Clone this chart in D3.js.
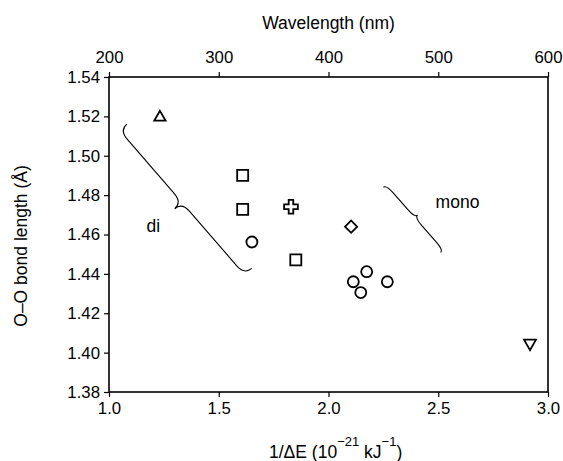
<!DOCTYPE html>
<html>
<head>
<meta charset="utf-8">
<script src="https://cdn.jsdelivr.net/npm/d3@7"></script>
<style>
  body { margin: 0; background: #fff; }
  svg { display: block; font-family: "Liberation Sans", Arial, Helvetica, sans-serif; }
</style>
</head>
<body>
<svg id="chart" width="563" height="461"></svg>
<script>
// ---- data (x = 1/ΔE in 1e-21 kJ^-1, y = O–O bond length in Å) ----
const triangleUpPts   = [[1.232, 1.5195]];
const squarePts       = [[1.609, 1.490], [1.609, 1.4728], [1.851, 1.4471]];
const circlePts       = [[1.651, 1.4562], [2.113, 1.436], [2.147, 1.4305], [2.174, 1.4411], [2.268, 1.436]];
const crossPts        = [[1.829, 1.4741]];
const diamondPts      = [[2.103, 1.464]];
const triangleDownPts = [[2.918, 1.4048]];

const xTicks = [1.0, 1.5, 2.0, 2.5, 3.0];
const yTicks = [1.38, 1.40, 1.42, 1.44, 1.46, 1.48, 1.50, 1.52, 1.54];
const wlTicks = [200, 300, 400, 500, 600];

// braces: [end1, tip, end2] in data coordinates
const braceDi   = [[1.081, 1.5161], [1.296, 1.4735], [1.650, 1.4428]];
const braceMono = [[2.250, 1.4840], [2.405, 1.4699], [2.511, 1.4508]];
const labels = [
  { text: "di",   x: 1.202, y: 1.4613, anchor: "middle" },
  { text: "mono", x: 2.488, y: 1.4735, anchor: "start" }
];

// ---- layout ----
const svg = d3.select("#chart");
const L = 109, R = 548, T = 77, B = 392;
const x = d3.scaleLinear().domain([1.0, 3.0]).range([L, R]);
const xw = d3.scaleLinear().domain([200, 600]).range([L, R]);
const y = d3.scaleLinear().domain([1.38, 1.54]).range([B, T]);

const tickFont = 16.8;

function styleAxis(g) {
  g.selectAll(".domain").remove();
  g.selectAll("line").attr("stroke", "#000").attr("stroke-width", 1.2);
  g.selectAll("text").attr("fill", "#000").style("font-size", tickFont + "px")
    .style("font-family", '"Liberation Sans", Arial, sans-serif');
}

svg.append("g").attr("transform", `translate(0,${B})`)
  .call(d3.axisBottom(x).tickValues(xTicks).tickFormat(d3.format(".1f")).tickSize(5).tickPadding(5))
  .call(styleAxis);
svg.append("g").attr("transform", `translate(0,${T})`)
  .call(d3.axisTop(xw).tickValues(wlTicks).tickFormat(d3.format("d")).tickSize(5).tickPadding(9))
  .call(styleAxis);
svg.append("g").attr("transform", `translate(${L},0)`)
  .call(d3.axisLeft(y).tickValues(yTicks).tickFormat(d3.format(".2f")).tickSize(5).tickPadding(4))
  .call(styleAxis);

// frame
svg.append("rect").attr("x", L).attr("y", T).attr("width", R - L).attr("height", B - T)
  .attr("fill", "none").attr("stroke", "#000").attr("stroke-width", 1.6);

// axis titles
svg.append("text").attr("x", (L + R) / 2).attr("y", 29).attr("text-anchor", "middle")
  .style("font-size", "17.5px").text("Wavelength (nm)");

const bt = svg.append("text").attr("x", 269).attr("y", 458).style("font-size", "17.5px");
bt.append("tspan").text("1/ΔE (10");
bt.append("tspan").attr("dy", -12).style("font-size", "13px").text("−21");
bt.append("tspan").attr("dy", 12).text(" kJ");
bt.append("tspan").attr("dy", -12).style("font-size", "13px").text("−1");
bt.append("tspan").attr("dy", 12).text(")");

svg.append("text").attr("transform", "translate(27,246) rotate(-90)").attr("text-anchor", "middle")
  .style("font-size", "17.5px").text("O–O bond length (Å)");

// ---- braces ----
function bracePath(p1, tip, p2) {
  const [x1, y1] = [x(p1[0]), y(p1[1])];
  const [x2, y2] = [x(p2[0]), y(p2[1])];
  const [tx, ty] = [x(tip[0]), y(tip[1])];
  const len = Math.hypot(x2 - x1, y2 - y1);
  const ux = (x2 - x1) / len, uy = (y2 - y1) / len;
  const mx = (x1 + x2) / 2, my = (y1 + y2) / 2;
  let nx = -uy, ny = ux;
  let w = (tx - mx) * nx + (ty - my) * ny;
  if (w < 0) { nx = -nx; ny = -ny; w = -w; }
  const h = w / 2;
  const ru = Math.min(12, len * 0.12);
  const P = (a, b) => `${a.toFixed(2)},${b.toFixed(2)}`;
  return [
    "M", P(x1, y1),
    "Q", P(x1 + h * nx, y1 + h * ny), P(x1 + h * nx + ru * ux, y1 + h * ny + ru * uy),
    "L", P(mx + h * nx - ru * ux, my + h * ny - ru * uy),
    "Q", P(mx + h * nx, my + h * ny), P(mx + w * nx, my + w * ny),
    "Q", P(mx + h * nx, my + h * ny), P(mx + h * nx + ru * ux, my + h * ny + ru * uy),
    "L", P(x2 + h * nx - ru * ux, y2 + h * ny - ru * uy),
    "Q", P(x2 + h * nx, y2 + h * ny), P(x2, y2)
  ].join(" ");
}
[braceDi, braceMono].forEach(b => {
  svg.append("path").attr("d", bracePath(b[0], b[1], b[2]))
    .attr("fill", "none").attr("stroke", "#000").attr("stroke-width", 1.1);
});

labels.forEach(l => {
  svg.append("text").attr("x", x(l.x)).attr("y", y(l.y)).attr("text-anchor", l.anchor)
    .style("font-size", "17.5px").text(l.text);
});

// ---- markers ----
const sw = 1.8;
function drawSymbols(pts, type, size, rot) {
  svg.append("g").selectAll("path").data(pts).join("path")
    .attr("d", d3.symbol().type(type).size(size))
    .attr("transform", d => `translate(${x(d[0])},${y(d[1])}) rotate(${rot || 0})`)
    .attr("fill", "#fff").attr("stroke", "#000").attr("stroke-width", sw)
    .attr("stroke-linejoin", "miter");
}
drawSymbols(squarePts, d3.symbolSquare, 121);
drawSymbols(crossPts, d3.symbolCross, 105);
drawSymbols(diamondPts, d3.symbolSquare, 74, 45);
drawSymbols(triangleUpPts, d3.symbolTriangle, 55);
drawSymbols(triangleDownPts, d3.symbolTriangle, 62, 180);
svg.append("g").selectAll("circle").data(circlePts).join("circle")
  .attr("cx", d => x(d[0])).attr("cy", d => y(d[1])).attr("r", 5.5)
  .attr("fill", "#fff").attr("stroke", "#000").attr("stroke-width", sw);
</script>
</body>
</html>
